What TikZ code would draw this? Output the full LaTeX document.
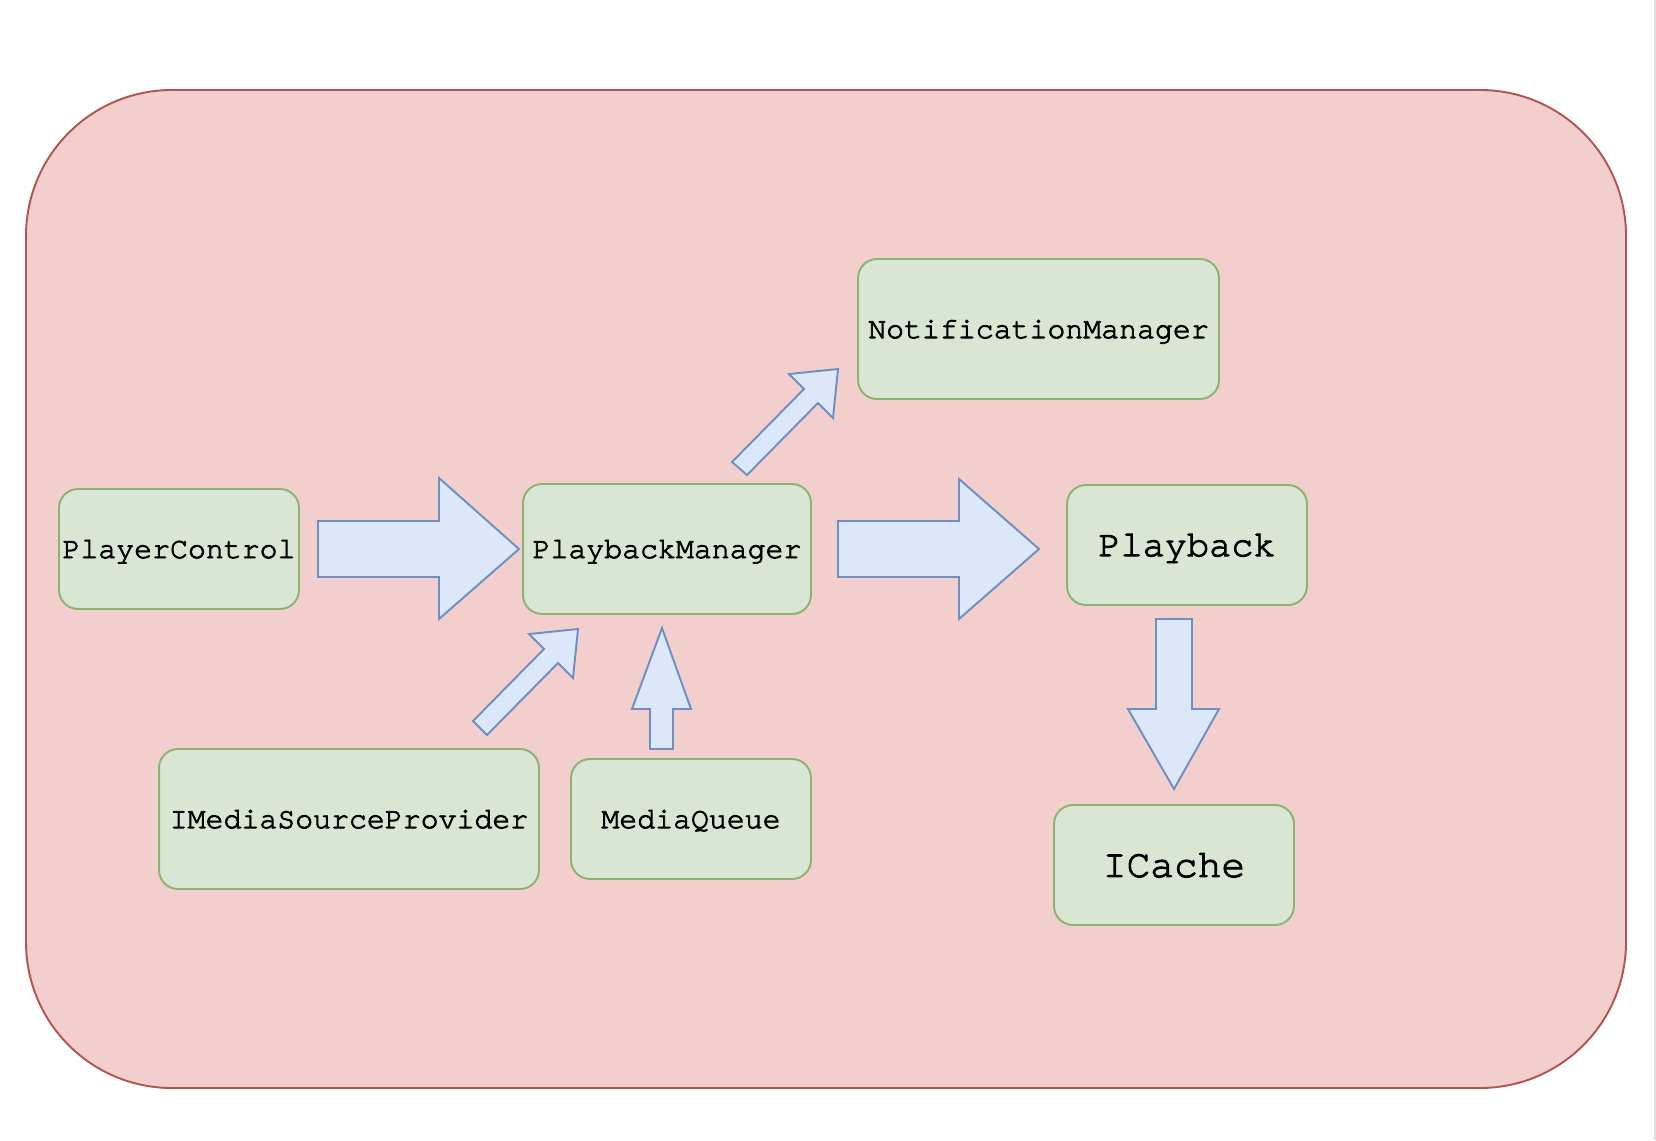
\documentclass[tikz,border=0pt]{standalone}
\usepackage{fontspec}
\setmonofont{TeX Gyre Cursor}[Ligatures=NoCommon, FakeBold=2.6]
\definecolor{groupfill}{HTML}{F2CFCD}
\definecolor{groupline}{HTML}{B0564F}
\definecolor{boxfill}{HTML}{DAE6D4}
\definecolor{boxline}{HTML}{8CB46E}
\definecolor{arrowfill}{HTML}{DCE8FA}
\definecolor{arrowline}{HTML}{6E8FC2}
\begin{document}
\begin{tikzpicture}[x=0.02cm, y=-0.02cm, % one unit is one pixel of the screenshot
                    line join=miter,
                    box/.style = {draw=boxline, fill=boxfill, line width=1.1pt,
                                  rounded corners=0.38cm, inner sep=0pt, text depth=0pt,
                                  font=\ttfamily\fontsize{17}{20}\selectfont},
                    blockarrow/.style = {draw=arrowline, fill=arrowfill, line width=1.1pt}
                   ]
  \useasboundingbox (0,0) rectangle (1656,1140);
  \draw[gray!25, line width=1.1pt] (1655,0) -- (1655,1140); % edge of the screenshot
  \draw[draw=groupline, fill=groupfill, line width=1.1pt, rounded corners=2.92cm]
        (26,90) rectangle (1626,1088);

  \node[box, minimum width=4.8cm,  minimum height=2.4cm] (ctrl)  at (179,549)    {PlayerControl};
  \node[box, minimum width=5.76cm, minimum height=2.6cm] (mgr)   at (667,549)    {PlaybackManager};
  \node[box, minimum width=7.22cm, minimum height=2.8cm] (notif) at (1038.5,329) {NotificationManager};
  \node[box, minimum width=4.8cm,  minimum height=2.4cm,
        font=\ttfamily\fontsize{21}{24}\selectfont]   (play)  at (1187,545) {Playback};
  \node[box, minimum width=4.8cm,  minimum height=2.4cm,
        font=\ttfamily\fontsize{22.5}{26}\selectfont] (cache) at (1174,865) {ICache};
  \node[box, minimum width=7.6cm,  minimum height=2.8cm] (source) at (349,819)   {IMediaSourceProvider};
  \node[box, minimum width=4.8cm,  minimum height=2.4cm] (queue) at (691,819)    {MediaQueue};

  % block arrows
  \draw[blockarrow] (318,521) -- (439,521) -- (439,478) -- (519,549) --
                    (439,619) -- (439,577) -- (318,577) -- cycle;
  \draw[blockarrow] (838,521) -- (959,521) -- (959,479) -- (1039,549) --
                    (959,619) -- (959,577) -- (838,577) -- cycle;
  \draw[blockarrow] (1156,619) -- (1192,619) -- (1192,709) -- (1219,709) --
                    (1174,789) -- (1128,709) -- (1156,709) -- cycle;
  \draw[blockarrow] (650,749) -- (650,709) -- (632,709) -- (662,628) --
                    (691,709) -- (673,709) -- (673,749) -- cycle;
  \draw[blockarrow] (732,462) -- (804,389) -- (789,374) -- (838,369) --
                    (833,418) -- (818,403) -- (747,475) -- cycle;
  \draw[blockarrow] (473,721) -- (544,649) -- (529,634) -- (578,629) --
                    (573,678) -- (558,663) -- (487,735) -- cycle;
\end{tikzpicture}
\end{document}
